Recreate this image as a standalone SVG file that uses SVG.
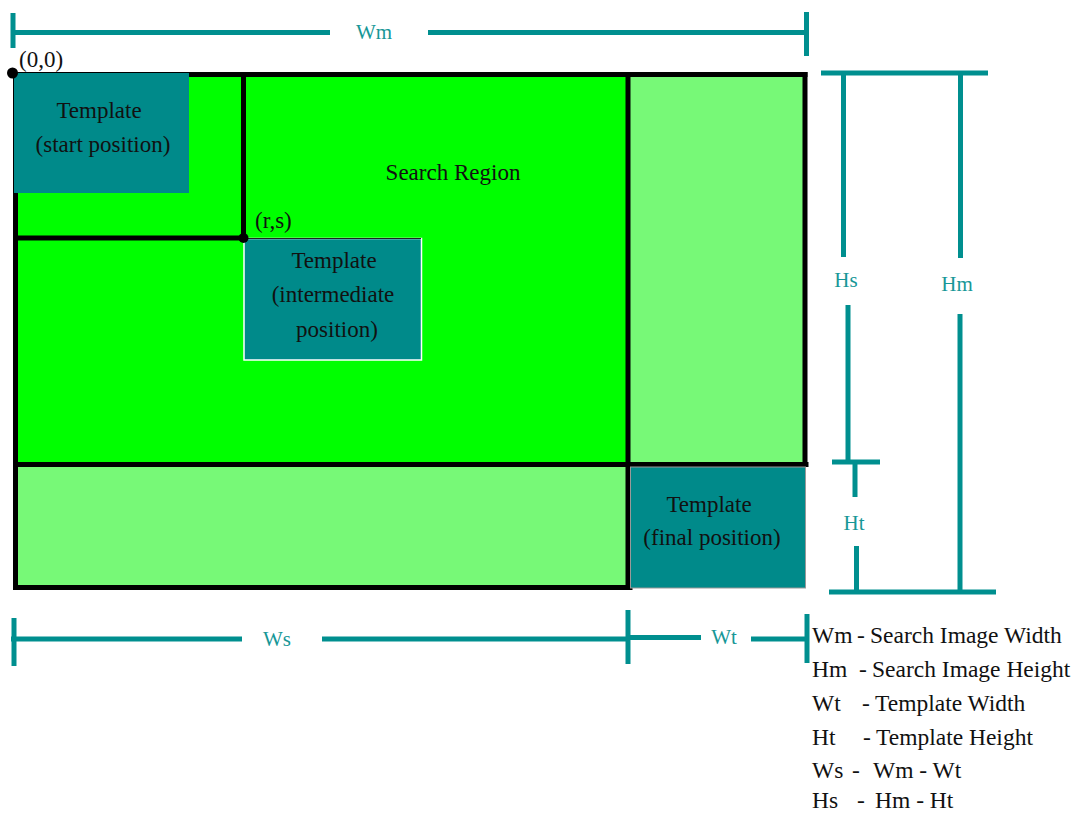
<svg xmlns="http://www.w3.org/2000/svg" width="1074" height="814" viewBox="0 0 1074 814">
<style>
.blk{stroke:#000;stroke-width:5;fill:none;stroke-linecap:square}
.dim{stroke:#008F8F;stroke-width:5;fill:none}
.t{font-family:"Liberation Serif",serif;font-size:23px;fill:#111}
.lg{font-size:23.5px}
.c{text-anchor:middle}
.lab{font-family:"Liberation Serif",serif;font-size:21px;fill:#179797;text-anchor:middle}
.tm{fill:#008A8A}
</style>
<rect width="1074" height="814" fill="#fff"/>
<g id="regions">
<rect x="15" y="74" width="613" height="390" fill="#00FF00"/>
<rect x="628" y="74" width="177" height="390" fill="#77F977"/>
<rect x="15" y="464" width="613" height="123" fill="#77F977"/>
</g>
<g id="outline">
<line class="blk" x1="15.5" y1="74.5" x2="805" y2="74.5"/>
<line class="blk" x1="15.5" y1="74.5" x2="15.5" y2="587.5"/>
<line class="blk" x1="15.5" y1="587.5" x2="630" y2="587.5"/>
<line class="blk" x1="805" y1="74.5" x2="805" y2="464.5"/>
<line class="blk" x1="628" y1="74.5" x2="628" y2="587.5"/>
<line class="blk" x1="15.5" y1="464.5" x2="806" y2="464.5"/>
<line class="blk" x1="243.5" y1="74.5" x2="243.5" y2="238"/>
<line class="blk" x1="15.5" y1="238" x2="243.5" y2="238"/>
</g>
<g id="template-start">
<rect class="tm" x="14" y="73" width="175" height="120"/>
<text class="t c" x="99" y="118">Template</text>
<text class="t c" x="103" y="152">(start position)</text>
</g>
<g id="search-region">
<text class="t c" x="453" y="180">Search Region</text>
</g>
<g id="origin">
<circle cx="12.5" cy="73" r="5.5" fill="#000"/>
<text class="t" x="19" y="67">(0,0)</text>
</g>
<g id="template-intermediate">
<rect class="tm" x="244" y="238.5" width="177.5" height="121.5" stroke="#fff" stroke-width="1.5"/>
<line x1="243" y1="238.5" x2="421" y2="238.5" stroke="#222" stroke-width="1.2"/>
<circle cx="243.5" cy="238" r="5" fill="#000"/>
<text class="t" x="255" y="228">(r,s)</text>
<text class="t c" x="334" y="268">Template</text>
<text class="t c" x="333" y="302">(intermediate</text>
<text class="t c" x="337" y="337">position)</text>
</g>
<g id="template-final">
<rect class="tm" x="630.5" y="467" width="175" height="121" stroke="#999" stroke-width="1"/>
<text class="t c" x="709" y="512">Template</text>
<text class="t c" x="712" y="545">(final position)</text>
</g>
<g id="dimensions">
<line class="dim" x1="13" y1="13" x2="13" y2="48"/>
<line class="dim" x1="13" y1="32.5" x2="330" y2="32.5"/>
<line class="dim" x1="428" y1="32.5" x2="806" y2="32.5"/>
<line class="dim" x1="806.5" y1="12" x2="806.5" y2="56"/>
<text class="lab" x="374" y="39">Wm</text>

<line class="dim" x1="821" y1="73" x2="988" y2="73"/>
<line class="dim" x1="843.5" y1="73" x2="843.5" y2="257"/>
<text class="lab" x="846" y="287">Hs</text>
<line class="dim" x1="848" y1="305" x2="848" y2="462"/>
<line class="dim" x1="832" y1="462" x2="880" y2="462"/>
<line class="dim" x1="855" y1="462" x2="855" y2="497"/>
<text class="lab" x="854" y="530">Ht</text>
<line class="dim" x1="856.5" y1="546" x2="856.5" y2="592"/>
<line class="dim" x1="829" y1="592" x2="996" y2="592"/>
<line class="dim" x1="960.5" y1="73" x2="960.5" y2="258"/>
<text class="lab" x="957" y="291">Hm</text>
<line class="dim" x1="960" y1="314" x2="960" y2="592"/>

<line class="dim" x1="14" y1="618" x2="14" y2="666"/>
<line class="dim" x1="11" y1="639" x2="242" y2="639"/>
<text class="lab" x="277" y="646">Ws</text>
<line class="dim" x1="322" y1="639" x2="628" y2="639"/>
<line class="dim" x1="628" y1="610" x2="628" y2="664"/>
<line class="dim" x1="628" y1="637.5" x2="701" y2="637.5"/>
<text class="lab" x="724" y="644">Wt</text>
<line class="dim" x1="751" y1="639" x2="806" y2="639"/>
<line class="dim" x1="807" y1="614" x2="807" y2="663"/>
</g>
<g id="legend">
<text class="t lg" y="643"><tspan x="812">Wm</tspan><tspan x="857">-</tspan><tspan x="870">Search Image Width</tspan></text>
<text class="t lg" y="677"><tspan x="812">Hm</tspan><tspan x="859">-</tspan><tspan x="872">Search Image Height</tspan></text>
<text class="t lg" y="711"><tspan x="812">Wt</tspan><tspan x="862">-</tspan><tspan x="875">Template Width</tspan></text>
<text class="t lg" y="745"><tspan x="812">Ht</tspan><tspan x="863">-</tspan><tspan x="876">Template Height</tspan></text>
<text class="t lg" y="778"><tspan x="812">Ws</tspan><tspan x="852">-</tspan><tspan x="873">Wm - Wt</tspan></text>
<text class="t lg" y="808"><tspan x="812">Hs</tspan><tspan x="857">-</tspan><tspan x="875">Hm - Ht</tspan></text>
</g>
</svg>
